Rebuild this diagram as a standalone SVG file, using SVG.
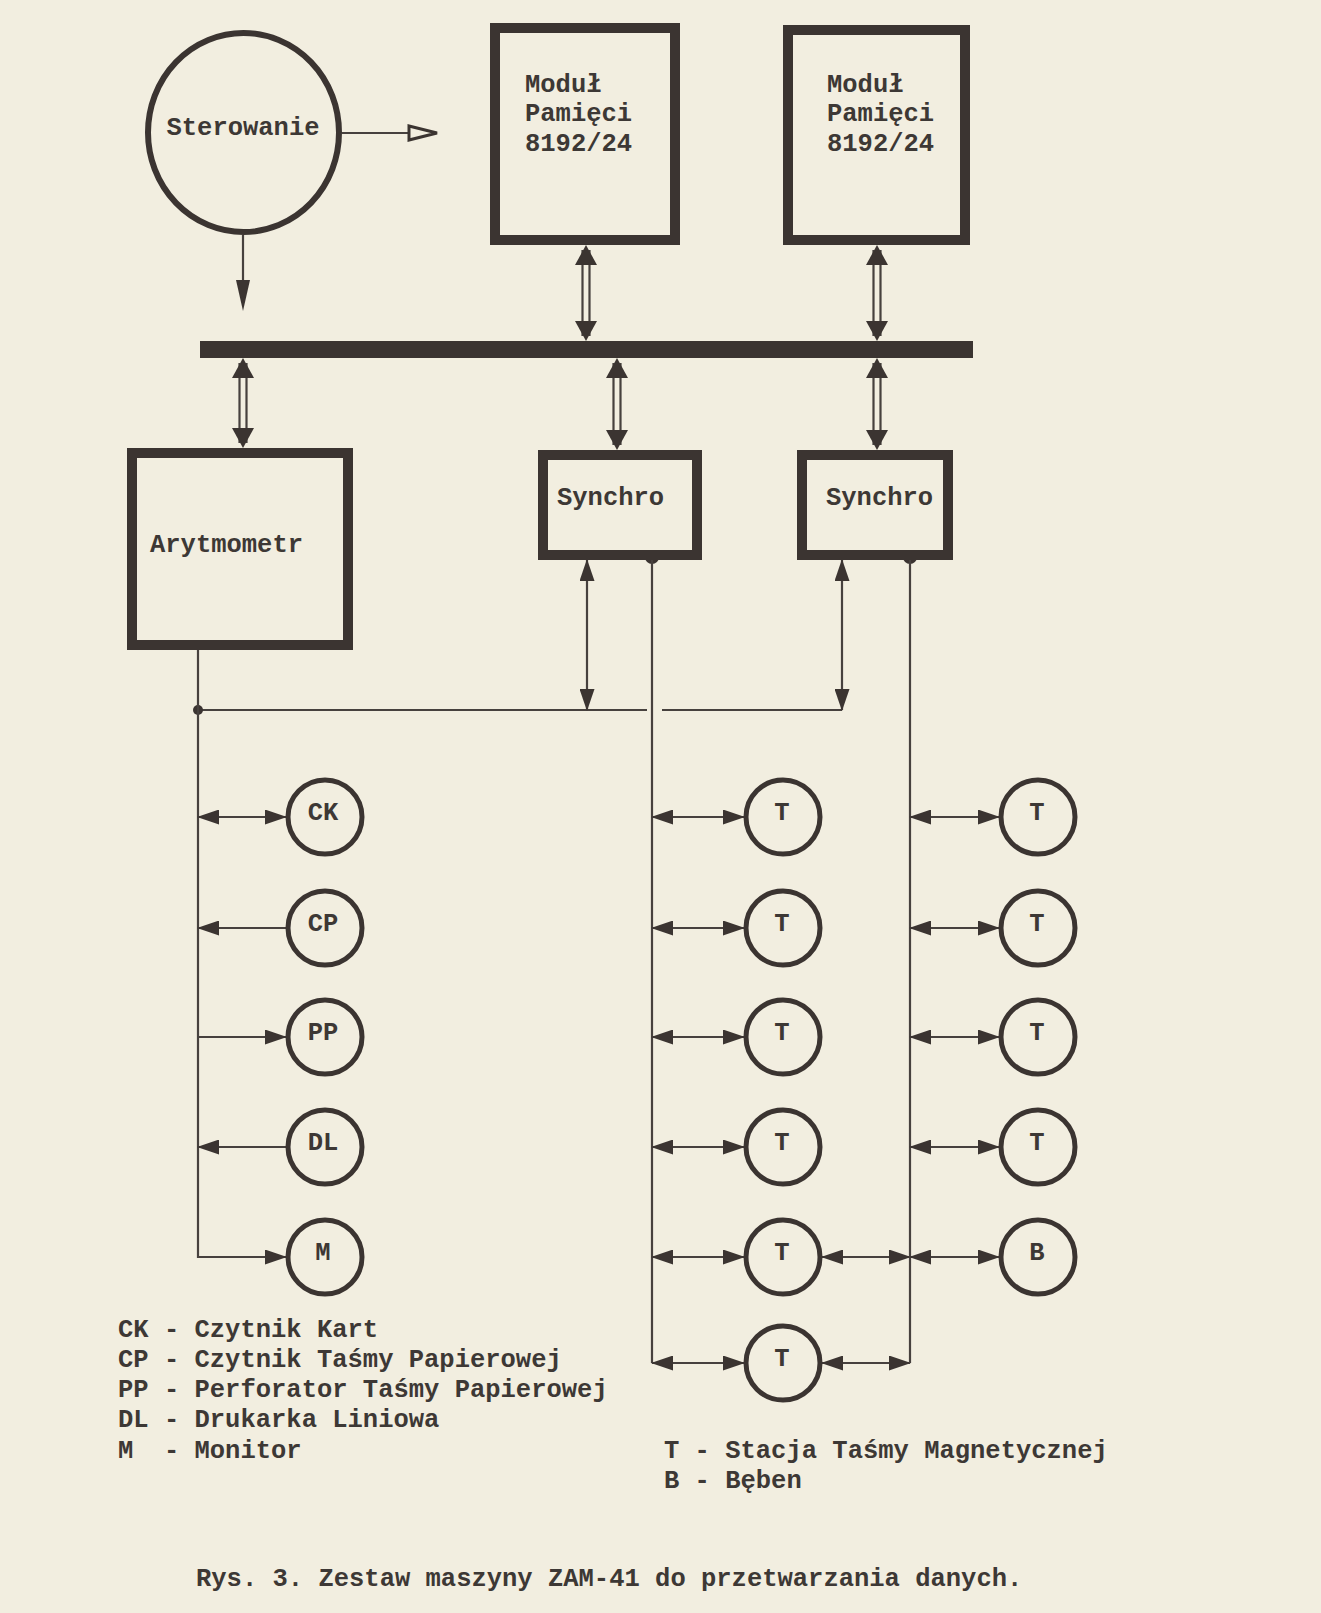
<svg xmlns="http://www.w3.org/2000/svg" width="1321" height="1613" viewBox="0 0 1321 1613">
<defs>
<style>
.ln{stroke:#47413e;stroke-width:2.2;fill:none}
.box{fill:none;stroke:#3b3431;stroke-width:10}
.circ{fill:none;stroke:#3b3431;stroke-width:5}
.t{font-family:"Liberation Mono","DejaVu Sans Mono",monospace;font-weight:bold;font-size:25.5px;fill:#3d3835}
.c{text-anchor:middle}
.bi{marker-start:url(#ah);marker-end:url(#ah)}
.to{marker-end:url(#ah)}
.dbl{marker-start:url(#dh);marker-end:url(#dh);stroke:none;fill:none}
</style>
<marker id="ah" markerUnits="userSpaceOnUse" markerWidth="22" markerHeight="15" viewBox="0 0 22 15" refX="21" refY="7.5" orient="auto-start-reverse"><path d="M0,0 L22,7.5 L0,15 z" fill="#3b3431"/></marker>
<marker id="dh" markerUnits="userSpaceOnUse" markerWidth="20" markerHeight="22" viewBox="0 0 20 22" refX="20" refY="11" orient="auto-start-reverse"><path d="M0,0 L20,11 L0,22 z" fill="#3b3431"/></marker>
</defs>
<rect width="1321" height="1613" fill="#f2eee0"/>

<g id="connectors">
  <path class="ln" d="M342,133 H409"/>
  <polygon points="409,126 437,133 409,140" fill="none" stroke="#3b3431" stroke-width="3"/>
  <path class="ln" d="M243,235 V285"/>
  <polygon points="236,280 243,311 250,280" fill="#3b3431"/>
  <path class="ln" d="M582.5,250 V336 M589.5,250 V336"/>
  <path class="dbl" d="M586,245 V341"/>
  <path class="ln" d="M873.5,250 V336 M880.5,250 V336"/>
  <path class="dbl" d="M877,245 V341"/>
  <path class="ln" d="M239.5,363 V443 M246.5,363 V443"/>
  <path class="dbl" d="M243,358 V448"/>
  <path class="ln" d="M613.5,363 V445 M620.5,363 V445"/>
  <path class="dbl" d="M617,358 V450"/>
  <path class="ln" d="M873.5,363 V445 M880.5,363 V445"/>
  <path class="dbl" d="M877,358 V450"/>
  <path class="ln" d="M198,710 H647 M662,710 H842"/>
  <path class="ln bi" d="M587,560 V710"/>
  <path class="ln bi" d="M842,560 V710"/>
  <circle cx="198" cy="710" r="5" fill="#3b3431"/>
  <circle cx="652" cy="557" r="7" fill="#3b3431"/>
  <circle cx="910" cy="557" r="7" fill="#3b3431"/>
  <path class="ln to" d="M198,650 V1257 H286"/>
  <path class="ln bi" d="M198,817 H286"/>
  <path class="ln to" d="M286,928 H198"/>
  <path class="ln to" d="M198,1037 H286"/>
  <path class="ln to" d="M286,1147 H198"/>
  <path class="ln" d="M652,557 V1363"/>
  <path class="ln bi" d="M652,817 H744"/>
  <path class="ln bi" d="M652,928 H744"/>
  <path class="ln bi" d="M652,1037 H744"/>
  <path class="ln bi" d="M652,1147 H744"/>
  <path class="ln bi" d="M652,1257 H744"/>
  <path class="ln bi" d="M652,1363 H744"/>
  <path class="ln bi" d="M822,1257 H910"/>
  <path class="ln bi" d="M822,1363 H910"/>
  <path class="ln" d="M910,557 V1363"/>
  <path class="ln bi" d="M910,817 H999"/>
  <path class="ln bi" d="M910,928 H999"/>
  <path class="ln bi" d="M910,1037 H999"/>
  <path class="ln bi" d="M910,1147 H999"/>
  <path class="ln bi" d="M910,1257 H999"/>
</g>

<g id="bus"><rect x="200" y="341" width="773" height="17" fill="#3b3431"/></g>

<g id="sterowanie">
  <ellipse cx="243.5" cy="132.5" rx="95.5" ry="99.5" fill="none" stroke="#3b3431" stroke-width="6"/>
  <text class="t c" x="243" y="135">Sterowanie</text>
</g>
<g id="modul1">
  <rect class="box" x="495" y="28" width="180" height="212"/>
  <text class="t" x="525" y="92">Moduł</text>
  <text class="t" x="525" y="121">Pamięci</text>
  <text class="t" x="525" y="151">8192/24</text>
</g>
<g id="modul2">
  <rect class="box" x="788" y="30" width="177" height="210"/>
  <text class="t" x="827" y="92">Moduł</text>
  <text class="t" x="827" y="121">Pamięci</text>
  <text class="t" x="827" y="151">8192/24</text>
</g>
<g id="arytmometr">
  <rect class="box" x="132" y="453" width="216" height="192"/>
  <text class="t" x="150" y="552">Arytmometr</text>
</g>
<g id="synchro1">
  <rect class="box" x="543" y="455" width="154" height="100"/>
  <text class="t" x="557" y="505">Synchro</text>
</g>
<g id="synchro2">
  <rect class="box" x="802" y="455" width="146" height="100"/>
  <text class="t" x="826" y="505">Synchro</text>
</g>

<g id="ck"><circle class="circ" cx="325" cy="817" r="37"/><text class="t c" x="323" y="820">CK</text></g>
<g id="cp"><circle class="circ" cx="325" cy="928" r="37"/><text class="t c" x="323" y="931">CP</text></g>
<g id="pp"><circle class="circ" cx="325" cy="1037" r="37"/><text class="t c" x="323" y="1040">PP</text></g>
<g id="dl"><circle class="circ" cx="325" cy="1147" r="37"/><text class="t c" x="323" y="1150">DL</text></g>
<g id="m"><circle class="circ" cx="325" cy="1257" r="37"/><text class="t c" x="323" y="1260">M</text></g>

<g id="t1a"><circle class="circ" cx="783" cy="817" r="37"/><text class="t c" x="782" y="820">T</text></g>
<g id="t1b"><circle class="circ" cx="783" cy="928" r="37"/><text class="t c" x="782" y="931">T</text></g>
<g id="t1c"><circle class="circ" cx="783" cy="1037" r="37"/><text class="t c" x="782" y="1040">T</text></g>
<g id="t1d"><circle class="circ" cx="783" cy="1147" r="37"/><text class="t c" x="782" y="1150">T</text></g>
<g id="t1e"><circle class="circ" cx="783" cy="1257" r="37"/><text class="t c" x="782" y="1260">T</text></g>
<g id="t1f"><circle class="circ" cx="783" cy="1363" r="37"/><text class="t c" x="782" y="1366">T</text></g>

<g id="t2a"><circle class="circ" cx="1038" cy="817" r="37"/><text class="t c" x="1037" y="820">T</text></g>
<g id="t2b"><circle class="circ" cx="1038" cy="928" r="37"/><text class="t c" x="1037" y="931">T</text></g>
<g id="t2c"><circle class="circ" cx="1038" cy="1037" r="37"/><text class="t c" x="1037" y="1040">T</text></g>
<g id="t2d"><circle class="circ" cx="1038" cy="1147" r="37"/><text class="t c" x="1037" y="1150">T</text></g>
<g id="b"><circle class="circ" cx="1038" cy="1257" r="37"/><text class="t c" x="1037" y="1260">B</text></g>

<g id="legend-left">
  <text class="t" x="118" y="1337">CK - Czytnik Kart</text>
  <text class="t" x="118" y="1367">CP - Czytnik Taśmy Papierowej</text>
  <text class="t" x="118" y="1397">PP - Perforator Taśmy Papierowej</text>
  <text class="t" x="118" y="1427">DL - Drukarka Liniowa</text>
  <text class="t" x="118" y="1458" xml:space="preserve">M  - Monitor</text>
</g>
<g id="legend-right">
  <text class="t" x="664" y="1458">T - Stacja Taśmy Magnetycznej</text>
  <text class="t" x="664" y="1488">B - Bęben</text>
</g>
<g id="caption">
  <text class="t" x="196" y="1586">Rys. 3. Zestaw maszyny ZAM-41 do przetwarzania danych.</text>
</g>
</svg>
